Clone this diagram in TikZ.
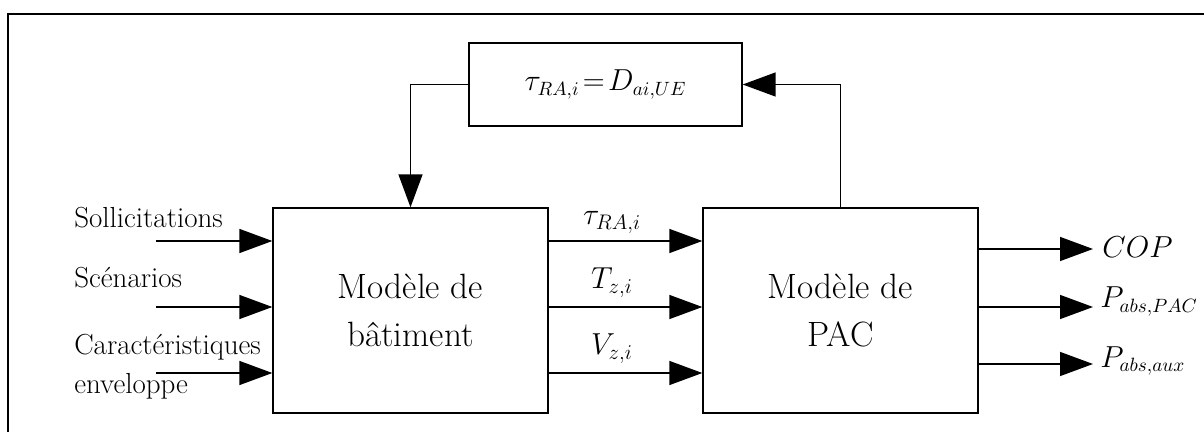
\documentclass[tikz,border=0pt]{standalone}
\usepackage{amsmath}
\usetikzlibrary{calc}
\usetikzlibrary{arrows.meta}

\begin{document}
\begin{tikzpicture}[x=0.02cm, y=-0.02cm,
    block/.style={draw, line width=0.8pt, minimum width=5.5cm, minimum height=4.1cm, align=center, font=\fontsize{20}{27}\selectfont},
    flow/.style={line width=0.8pt, -{Triangle[length=6.6mm, width=4.8mm]}},
    lbl/.style={font=\fontsize{16.5}{19}\selectfont, inner sep=0pt}]
    \useasboundingbox (0,0) rectangle (1204,432);
    \draw[line width=1.6pt] (8,440) |- (1210,14);

    % blocks
    \node[block] (bat) at (410.5,310.5) {Modèle de\\bâtiment};
    \node[block] (pac) at (840.5,310.5) {Modèle de\\PAC};
    \node[block, minimum width=5.46cm, minimum height=1.66cm, font=\fontsize{16}{19}\selectfont] (eq) at (605.5,84.5) {$\tau_{RA,i}\!=\!D_{ai,UE}$};

    % inputs
    \coordinate (s1) at (156,241);
    \coordinate (s2) at (156,307);
    \coordinate (s3) at (156,373);
    \draw[flow] (s1) -- (s1 -| bat.west);
    \draw[flow] (s2) -- (s2 -| bat.west);
    \draw[flow] (s3) -- (s3 -| bat.west);
    \node[lbl, anchor=base west] (sol) at (74,228) {Sollicitations};
    \node[lbl, anchor=base west] (sce) at (74,288) {Scénarios};
    \node[lbl, anchor=base west] (car) at (74,355) {Caractéristiques};
    \node[lbl, anchor=base west] (env) at (74,393) {enveloppe};

    % building -> heat pump
    \draw[flow] (bat.east |- s1) -- (pac.west |- s1);
    \draw[flow] (bat.east |- s2) -- (pac.west |- s2);
    \draw[flow] (bat.east |- s3) -- (pac.west |- s3);
    \node[lbl, anchor=base] (tau) at (612,225) {$\tau_{RA,i}$};
    \node[lbl, anchor=base] (tz) at (612,289) {$T_{z,i}$};
    \node[lbl, anchor=base] (vz) at (612,355) {$V_{z,i}$};

    % outputs
    \coordinate (o1) at (1093,249);
    \coordinate (o2) at (1093,307);
    \coordinate (o3) at (1093,364);
    \draw[flow] (pac.east |- o1) -- (o1);
    \draw[flow] (pac.east |- o2) -- (o2);
    \draw[flow] (pac.east |- o3) -- (o3);
    \node[lbl, anchor=base west] (cop) at (1102,258) {$COP$};
    \node[lbl, anchor=base west, font=\fontsize{16}{19}\selectfont] (ppac) at (1100,308) {$P_{abs,PAC}$};
    \node[lbl, anchor=base west, font=\fontsize{16}{19}\selectfont] (paux) at (1100,367) {$P_{abs,aux}$};

    % feedback loop
    \draw[flow] (pac.north) |- (eq.east);
    \draw[flow] (eq.west) -| (bat.north);
\end{tikzpicture}
\end{document}
